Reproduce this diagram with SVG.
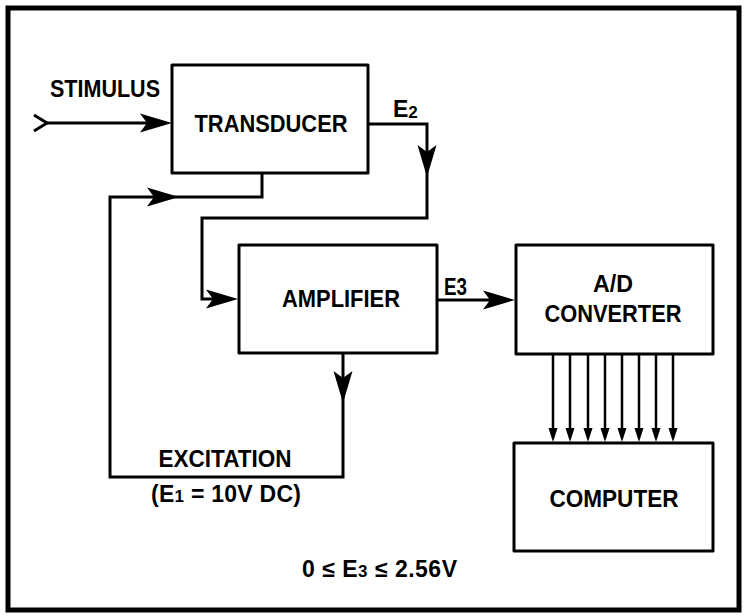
<svg xmlns="http://www.w3.org/2000/svg" xmlns:xlink="http://www.w3.org/1999/xlink" width="745" height="616" viewBox="0 0 745 616">
<style>
.box{fill:#fff;stroke:#000;stroke-width:3;stroke-linejoin:round}
.ln{fill:none;stroke:#000;stroke-width:3;stroke-linejoin:miter}
.bus{fill:none;stroke:#000;stroke-width:2.5}
.t{font-family:"Liberation Sans",Arial,sans-serif;font-weight:bold;font-size:23px;fill:#000}
.m{text-anchor:middle}
</style>
<defs>
<path id="ah" d="M0,0 L-32,-9.5 L-25,0 L-32,9.5 Z" fill="#000"/>
<path id="sah" d="M0,0 L-14,-4.5 L-14,4.5 Z" fill="#000"/>
</defs>
<rect x="8" y="8" width="731" height="602" fill="#fff" stroke="#000" stroke-width="5"/>
<g id="connectors">
<polyline class="ln" points="34,115 47,123 34,131"/>
<path class="ln" d="M47,123 H160"/>
<use xlink:href="#ah" transform="translate(172,123)"/>
<path class="ln" d="M368,124 H427 V218 H202 V299 H230"/>
<use xlink:href="#ah" transform="translate(427,177) rotate(90)"/>
<use xlink:href="#ah" transform="translate(238,299)"/>
<path class="ln" d="M262,173 V197 H110 V477 H343 V353"/>
<use xlink:href="#ah" transform="translate(179,197)"/>
<use xlink:href="#ah" transform="translate(343,403) rotate(90)"/>
<path class="ln" d="M437,300 H505"/>
<use xlink:href="#ah" transform="translate(515,300)"/>
<path class="bus" d="M553,354 V432 M570,354 V432 M588,354 V432 M605,354 V432 M622,354 V432 M639,354 V432 M656,354 V432 M673,354 V432"/>
<use xlink:href="#sah" transform="translate(553,442) rotate(90)"/>
<use xlink:href="#sah" transform="translate(570,442) rotate(90)"/>
<use xlink:href="#sah" transform="translate(588,442) rotate(90)"/>
<use xlink:href="#sah" transform="translate(605,442) rotate(90)"/>
<use xlink:href="#sah" transform="translate(622,442) rotate(90)"/>
<use xlink:href="#sah" transform="translate(639,442) rotate(90)"/>
<use xlink:href="#sah" transform="translate(656,442) rotate(90)"/>
<use xlink:href="#sah" transform="translate(673,442) rotate(90)"/>
</g>
<g id="transducer">
<rect class="box" x="172" y="65" width="196" height="108"/>
<text class="t m" x="271" y="132" textLength="153" lengthAdjust="spacingAndGlyphs">TRANSDUCER</text>
</g>
<g id="amplifier">
<rect class="box" x="239" y="245" width="198" height="108"/>
<text class="t m" x="341" y="307" textLength="118" lengthAdjust="spacingAndGlyphs">AMPLIFIER</text>
</g>
<g id="adconverter">
<rect class="box" x="516" y="245" width="197" height="109"/>
<text class="t m" x="613" y="292" textLength="40" lengthAdjust="spacingAndGlyphs">A/D</text>
<text class="t m" x="613" y="322" textLength="137" lengthAdjust="spacingAndGlyphs">CONVERTER</text>
</g>
<g id="computer">
<rect class="box" x="514" y="443" width="199" height="108"/>
<text class="t m" x="614" y="507" textLength="129" lengthAdjust="spacingAndGlyphs">COMPUTER</text>
</g>
<g id="labels">
<text class="t m" x="105" y="97" textLength="110" lengthAdjust="spacingAndGlyphs">STIMULUS</text>
<text class="t" x="393" y="117" font-size="21">E<tspan font-size="17" dy="1">2</tspan></text>
<text class="t" x="444" y="295" font-size="21" textLength="23" lengthAdjust="spacingAndGlyphs">E3</text>
<text class="t m" x="225" y="467" textLength="133" lengthAdjust="spacingAndGlyphs">EXCITATION</text>
<text class="t" x="151" y="502" textLength="150" lengthAdjust="spacing">(E<tspan font-size="17">1</tspan> = 10V DC)</text>
<text class="t" x="302" y="577" textLength="155" lengthAdjust="spacing">0 ≤ E<tspan font-size="17">3</tspan> ≤ 2.56V</text>
</g>
</svg>
